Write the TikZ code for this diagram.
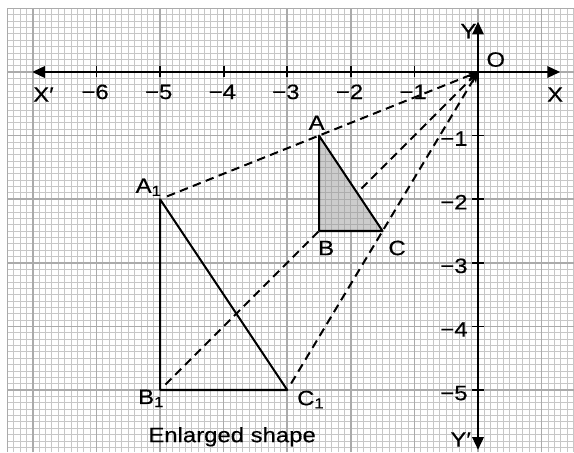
\documentclass[tikz,border=0pt]{standalone}
\usepackage{fontspec}
\setmainfont{Liberation Sans}[FakeStretch=1.15,FakeBold=0.4]
\usetikzlibrary{arrows.meta}
\begin{document}
\begin{tikzpicture}[
  minorgrid/.style={draw=black!22, line width=0.35pt},
  majorgrid/.style={draw=black!33, line width=0.75pt},
  axisline/.style={line width=0.9pt, -{Triangle[length=0.2cm,width=0.18cm]}},
  tickline/.style={line width=0.8pt},
  lbl/.style={font=\fontsize{9.3}{11}\selectfont, inner sep=0pt},
  ray/.style={dash pattern=on 3.8pt off 2.4pt, line width=0.9pt, -{Stealth[length=0.17cm,width=0.13cm]}, shorten <=0.12cm},
  edgeline/.style={line width=0.9pt, line join=round}
]
\useasboundingbox (-7.516,-5.975) rectangle (1.509,1.132);
\fill[white] (-7.516,-5.975) rectangle (1.509,1.132);
% grid
\draw[minorgrid] (-7.4,-5.975) grid[step=0.1] (1.509,1.0);
\draw[majorgrid] (-7.4,-5.975) grid[step=1] (1.509,1.0);
\draw[majorgrid] (-7.4,-5.975) -- (-7.4,1.0) -- (1.509,1.0);
% points
\coordinate (O) at (0,0);
\coordinate (A) at (-2.5,-1);
\coordinate (B) at (-2.5,-2.5);
\coordinate (C) at (-1.5,-2.5);
\coordinate (A1) at (-5,-2);
\coordinate (B1) at (-5,-5);
\coordinate (C1) at (-3,-5);
\coordinate (xl) at (-7.01,0);
\coordinate (xr) at (1.29,0);
\coordinate (yt) at (0,0.79);
\coordinate (yb) at (0,-5.94);
% axes
\draw[axisline] (O) -- (xl);
\draw[axisline] (O) -- (xr);
\draw[axisline] (O) -- (yt);
\draw[axisline] (O) -- (yb);
\foreach \x in {1,...,6} {
  \draw[tickline] (-\x,0.1) -- (-\x,-0.08);
  \node[lbl, anchor=base] (xt\x) at (-\x-0.02,-0.425) {−\x};
}
\foreach \y in {1,...,5} {
  \draw[tickline] (-0.09,-\y) -- (0.09,-\y);
  \node[lbl, anchor=base east] (yt\y) at (-0.157,-\y-0.16) {−\y};
}
\node[lbl, anchor=base west] (lXp) at (-7.0,-0.467) {X′};
\node[lbl, anchor=base west] (lX) at (1.08,-0.467) {X};
\node[lbl, anchor=base west] (lY) at (-0.283,0.53) {Y};
\node[lbl, anchor=base west] (lO) at (0.126,0.083) {O};
\node[lbl, anchor=base west] (lYp) at (-0.44,-5.89) {Y′};
% rays
\draw[ray] (A1) -- (O);
\draw[ray] (B1) -- (O);
\draw[ray] (C1) -- (O);
% small triangle
\fill[black!20] (A) -- (B) -- (C) -- cycle;
\begin{scope}
  \clip (A) -- (B) -- (C) -- cycle;
  \draw[draw=black!32, line width=0.35pt] (-2.6,-2.6) grid[step=0.1] (-1.4,-0.9);
\end{scope}
\draw[edgeline] (A) -- (B) -- (C) -- cycle;
% enlarged triangle
\draw[edgeline] (A1) -- (B1) -- (C1) -- cycle;
% labels
\node[lbl, anchor=base west] (lA) at (-2.67,-0.91) {A};
\node[lbl, anchor=base west] (lB) at (-2.52,-2.88) {B};
\node[lbl, anchor=base west] (lC) at (-1.415,-2.88) {C};
\node[lbl, anchor=base west] (lA1) at (-5.39,-1.90) {A\textsubscript{1}};
\node[lbl, anchor=base west] (lB1) at (-5.35,-5.22) {B\textsubscript{1}};
\node[lbl, anchor=base west] (lC1) at (-2.85,-5.24) {C\textsubscript{1}};
\node[lbl, anchor=base west] (cap) at (-5.19,-5.82) {Enlarged shape};
\end{tikzpicture}
\end{document}
